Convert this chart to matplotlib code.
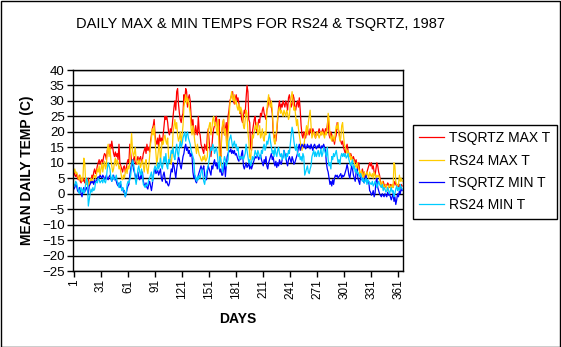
import matplotlib
matplotlib.use("Agg")
import matplotlib.pyplot as plt
import numpy as np
from matplotlib.patches import Rectangle

plt.rcParams['font.family'] = ['Liberation Sans', 'DejaVu Sans']

# daily values, 1987 (day 1 .. 365)
tsqrtz_max = [
    7, 6, 5.5, 6.5, 5, 4.5, 6, 4, 3.5, 5,
    4, 5, 3.5, 4.5, 3, 4, 5, 3, 3.5, 4,
    6, 5, 7, 8, 6.5, 7.5, 9, 10, 11, 9.5,
    10.5, 11, 10, 12, 13, 12.5, 11, 14, 15, 13,
    16, 14.5, 17, 15, 13, 12, 13.5, 12, 13, 11,
    16, 10, 9, 8, 7, 8.5, 9, 7, 8, 10,
    11, 10, 16, 13, 10.5, 9, 11, 12, 10, 9.5,
    11, 12, 10, 11.5, 12, 10, 11, 13, 14, 15,
    13, 16, 14, 15, 13.5, 17, 19, 21, 22, 24,
    19, 17, 16, 18, 15, 19, 17, 18, 16, 19,
    22, 25, 24, 25, 23, 20, 19, 21, 20, 22,
    25, 28, 30, 27, 33, 34, 29, 26, 24, 23,
    25, 26, 32, 30, 34, 33, 28, 31, 32, 30,
    25, 22, 24, 20, 19, 22, 20, 19, 25, 20,
    19, 16, 15, 14, 13, 16, 15, 14, 19, 21,
    17, 14, 12, 15, 19, 21, 22, 24, 25, 22,
    21, 24, 13, 12, 20, 22, 24, 19, 21, 23,
    17, 25, 27, 30, 31, 32, 33, 30, 29, 31,
    32, 30, 31, 29, 26, 27, 24, 23, 25, 27,
    26, 31, 35, 33, 24, 23, 15, 14, 20, 22,
    24, 25, 21, 20, 22, 24, 23, 26, 25, 27,
    28, 26, 25, 24, 27, 28, 30, 31, 29, 28,
    26, 20, 18, 19, 17, 20, 24, 28, 30, 27,
    29, 28, 30, 29, 28, 30, 29, 27, 31, 32,
    30, 28, 29, 32, 31, 28, 27, 29, 30, 28,
    31, 27, 22, 19, 18, 20, 19, 18, 20, 21,
    20, 19, 21, 20, 19, 21, 20, 19, 18, 20,
    19, 20, 21, 20, 19, 20, 21, 20, 19, 21,
    20, 22, 25, 19, 18, 20, 19, 17, 18, 16,
    18, 19, 23, 21, 20, 18, 17, 16, 17, 15,
    14, 13, 15, 16, 14, 13, 12, 13, 12, 11,
    12, 11, 10, 11, 9, 8, 10, 7, 6, 7,
    8, 6, 7, 5, 6, 7, 8, 9, 10, 9,
    10, 8, 9, 7, 6, 8, 10, 9, 7, 6,
    4, 3, 2.5, 4, 3, 2, 3, 2.5, 3.5, 3,
    2, 3, 2.5, 3, 2, 3, 4, 3, 2.5, 3,
    2, 3, 2, 3, 2.5,
]

rs24_max = [
    7, 8, 6.5, 7, 6, 5, 4.5, 6, 5, 4,
    5, 11.5, 10, 4, 3, 4.5, 2.5, 3, 4, 5,
    3.5, 4, 5.5, 6, 5, 6, 8, 7, 9, 6,
    8, 10, 7, 9, 10.5, 8, 9, 14, 16, 12,
    15, 11, 9, 7, 8, 10, 11.5, 9, 11, 10,
    8, 9, 7, 5, 4.5, 6, 5, 7, 8, 6.5,
    9, 8, 10, 15, 19.5, 14, 12, 13, 15, 11,
    10, 9.5, 11, 10, 8.5, 10, 11, 9, 7, 10,
    11, 8, 6.5, 9, 12, 16, 18, 21, 19, 22,
    17, 13, 9, 12, 15, 16, 10, 14, 17, 16,
    18, 19, 17, 16, 18, 12, 10, 11, 9.5, 13,
    20, 22, 24, 21, 23, 19, 17, 18, 20, 16,
    19, 22, 28, 30, 32, 29, 31, 30, 28, 26,
    21, 19, 22, 20, 17, 15, 13, 16, 14, 12.5,
    12, 11, 10.5, 12, 11, 12.5, 10.5, 11, 12, 20,
    22, 23, 19, 21, 24, 25, 22, 23, 21, 19,
    24, 14, 9, 11, 20, 23, 24, 19, 21, 17,
    14, 19, 24, 29, 31, 33, 31, 30, 32, 29,
    30, 28, 27, 29, 26, 28, 27, 25, 22, 21,
    24, 27, 26, 20, 17, 12, 11, 15, 19, 18,
    20, 22, 21, 23, 19, 20, 22, 18, 19, 21,
    18, 17, 20, 19, 27, 30, 32, 29, 28, 30,
    27, 22, 17, 16, 19, 21, 25, 27, 28, 26,
    27, 26, 25, 27, 26, 25, 27, 26, 24, 25,
    29, 31, 33, 30, 27, 28, 25, 22, 24, 21,
    19, 17, 15, 14, 16, 15, 18, 20, 22, 19,
    23, 25, 27, 22, 18, 19, 20, 19, 18, 19,
    20, 19, 18, 19, 20, 19, 20, 19, 18, 20,
    19, 21, 26, 24, 19, 18, 17, 19, 18, 17,
    20, 22, 21, 23, 19, 17, 18, 22, 23, 19,
    16, 15, 14, 13, 14, 12, 13, 11, 12, 10.5,
    11, 10, 9, 8.5, 10, 9, 8, 7, 6, 7.5,
    6, 5, 7, 6, 5.5, 7, 6, 5, 7, 6,
    5.5, 6.5, 5, 7, 6, 5, 6, 5.5, 6, 5,
    3, 2, 4, 3, 1.5, 2.5, 3, 2, 1, 2,
    3, 2, 1.5, 3, 2, 10, 9, 4, 3, 2.5,
    3, 6, 4, 5, 4,
]

tsqrtz_min = [
    1.5, 2, 3, 2.5, 1, 0.5, 2, 1.5, 0, -1,
    1, 2, 0.5, 1.5, 2, 1, 0, 2.5, 3, 4,
    3.5, 4, 3, 4.5, 3.5, 4, 5, 5.5, 5, 6,
    5.5, 5, 6, 5.5, 4.5, 5, 6, 5, 4.5, 5.5,
    6, 5, 4, 5, 6, 4.5, 5, 4, 3, 2.5,
    3.5, 2, 3, 1.5, 2, 0.5, 1, -1, 0, 1.5,
    2.5, 3, 6, 8, 9.5, 11, 8, 7, 6, 5,
    6, 7, 5, 4.5, 6, 5, 7, 4, 3, 2.5,
    3.5, 2, 1.5, 3, 4, 2.5, 1, 3, 6, 7,
    8, 6.5, 7, 7.5, 6, 7, 8, 5, 4, 6,
    7, 5, 3.5, 4, 3, 2.5, 3.5, 6, 8, 7,
    10, 9, 7, 5, 8, 10, 12, 11, 9, 8,
    10, 12, 13, 15, 16, 14, 15, 13, 14, 12,
    13, 12, 7, 5, 6, 4, 3.5, 5, 6, 7,
    8, 9, 7.5, 8, 9, 6, 5, 4.5, 7, 9,
    8, 7, 6, 9, 8, 10, 11, 9, 10, 8,
    10, 9, 7, 8, 6, 6, 8, 10, 5.5, 9,
    12, 13, 14, 13.5, 14.5, 13, 14, 13, 14, 12.5,
    13, 12, 11, 10.5, 12, 11, 13, 14, 9, 8,
    9, 10, 8.5, 9, 10, 8, 9.5, 8, 9, 10,
    11, 12, 11.5, 12.5, 12, 11, 12, 12.5, 11, 10,
    9, 11, 10, 12, 9, 8, 10, 11, 12, 13,
    11, 12, 10, 9, 10.5, 8.5, 10, 9, 11, 10,
    9.5, 11, 12, 14, 13, 12, 10, 9, 11, 12,
    11, 10, 12, 11, 9.5, 10, 11, 12, 13, 15,
    16, 14, 15, 16, 15.5, 15, 16, 14.5, 15, 16,
    15, 15.5, 14.5, 16, 15, 14, 15.5, 16, 15, 14.5,
    15.5, 15, 16, 15, 14.5, 15.5, 15, 16, 15, 14,
    10, 8, 7, 5, 3, 4, 2.5, 4.5, 3, 5,
    6, 5.5, 6, 5, 5.5, 6, 6.5, 5, 6, 5.5,
    6, 7, 8, 9.5, 8, 6, 5, 7, 9, 8,
    6, 5, 4, 7, 8, 5, 4, 3, 6, 4.5,
    5, 4, 3.5, 5, 6, 4, 3.5, 4, 1, 0.5,
    -0.5, 0, 1, -1, 0, 4, 5, 2, 1, 0,
    -0.5, -1, 0, -0.5, -1, 0, -0.5, -1, 0.5, -0.5,
    0, -1, -2, -1, 0, -2.5, -1, -3.5, -2, 0,
    -1, 1, 0, 2, 1,
]

rs24_min = [
    3, 2.5, 4, 3.5, 2, 1, 0, 1.5, 2, 0.5,
    1.5, 0, 1, 3, 5, 4, -4, -2, 0, 1.5,
    0.5, 2, 1, 1.5, 3.5, 4, 3.5, 5, 4.5, 3.5,
    4, 4.5, 3.5, 5, 4, 3.5, 5, 8, 10, 9,
    8, 5, 4, 6, 5, 4.5, 5, 6, 4, 3,
    2, 3.5, 4, 1, 2, 1.5, 0.5, -1, 0, 3,
    4, 3.5, 4.5, 6, 9, 11, 10, 8, 5, 3,
    5, 8, 9, 7, 6, 8, 6, 3, 2.5, 2,
    3, 2.5, 3, 4.5, 5, 6, 7, 4, 5, 8,
    9, 8, 7.5, 10, 8, 9, 11.5, 9, 8, 10,
    12, 10, 13, 9, 8, 11, 10, 12, 14, 13,
    15, 12, 11, 14, 16, 13, 12, 15, 17, 15,
    16, 18, 19, 20, 17, 19, 20, 18, 17, 16,
    14, 13, 12, 11, 6, 5, 4, 5.5, 4.5, 6,
    5, 7, 8, 6, 4, 3, 5, 7, 8, 9,
    11, 13, 15, 14, 16, 15, 13, 14, 15, 13,
    10, 8, 12, 11, 9, 7, 10, 12, 11, 9,
    10, 11, 17, 18, 19, 17, 15, 16, 17, 15,
    16, 14, 15, 12, 11, 12, 11.5, 12, 11, 12,
    13, 16, 14, 12, 10, 11, 9, 10, 12, 11,
    12, 14, 13, 12, 14, 13, 12, 11.5, 14, 13,
    15, 16, 14, 15, 17, 16, 18, 19.5, 17, 15,
    13, 14, 12, 15, 13, 12, 14, 15, 13, 12,
    13, 11, 12, 14, 12, 11, 13, 12, 14, 13,
    16, 19, 21.5, 20, 17, 15, 14, 16, 13, 12,
    13, 11, 12, 10.5, 13, 12, 6, 7, 8, 9,
    7, 6.5, 8, 9, 12, 13, 14, 12, 13.5, 12,
    13, 14, 12, 13, 14.5, 12, 13, 15, 14, 13,
    12, 15, 11, 9, 10, 8, 12, 11, 13, 12,
    13, 14, 12, 10, 11, 9.5, 12, 13, 12, 13,
    12, 13, 11.5, 12, 13, 11, 10, 9, 10, 11,
    8, 9, 7, 8, 6.5, 7, 6, 5.5, 6.5, 5,
    4, 5, 3.5, 4, 5, 3, 4.5, 4, 3, 3.5,
    3, 4, 2.5, 3, 4, 3.5, 2, 3, 4, 3,
    2.5, 2, 3, 1, 2, 1.5, 0.5, 1, 2, 1,
    0, 1, 2, 0.5, 1, -1, 0, 1.5, 2.5, 1,
    2, 1, 3, 2, 1.5,
]

days = np.arange(1, len(tsqrtz_max) + 1)

series_names = ["TSQRTZ MAX T", "RS24 MAX T", "TSQRTZ MIN T", "RS24 MIN T"]
series_colors = ["#FF0000", "#FFCC00", "#0000FF", "#00CCFF"]
x_ticks = list(range(1, 366, 30))
y_ticks = list(range(-25, 45, 5))

fig = plt.figure(figsize=(5.61, 3.47), dpi=100)
ax = fig.add_axes([73 / 561, 1 - 271 / 347, 330 / 561, 201 / 347])

for vals, name, col in zip([tsqrtz_max, rs24_max, tsqrtz_min, rs24_min],
                           series_names, series_colors):
    ax.plot(days, vals, color=col, lw=0.9, label=name)

ax.set_xlim(0, 366)
ax.set_ylim(-25, 40)
ax.set_yticks(y_ticks)
ax.set_xticks(x_ticks)
ax.set_xticklabels([str(t) for t in x_ticks], rotation=90)
ax.yaxis.grid(True, color='black', lw=1)
ax.set_axisbelow(True)
ax.tick_params(axis='both', direction='out', length=4, width=1, pad=2)
ax.tick_params(axis='y', labelsize=9.5)
ax.tick_params(axis='x', labelsize=8.5)

for spine in ax.spines.values():
    spine.set_color('black')
    spine.set_linewidth(1)

ax.set_ylabel("MEAN DAILY TEMP (C)", fontsize=10, fontweight='bold', labelpad=6)
ax.set_xlabel("DAYS", fontsize=10, fontweight='bold', labelpad=9)

fig.text(260 / 561, 1 - 24 / 347, "DAILY MAX & MIN TEMPS FOR RS24 & TSQRTZ, 1987",
         ha='center', va='center', fontsize=10.5)

leg = ax.legend(loc='upper left', bbox_to_anchor=(413 / 561, 1 - 125 / 347),
                bbox_transform=fig.transFigure, borderaxespad=0, fancybox=False,
                edgecolor='black', framealpha=1, fontsize=10, handlelength=1.8,
                handletextpad=0.35, labelspacing=0.6, borderpad=0.45)
leg.get_frame().set_linewidth(1)

# black border around the whole chart
fig.patches.append(Rectangle((0.5 / 561, 0.5 / 347), 1 - 1.5 / 561, 1 - 1.5 / 347,
                             transform=fig.transFigure, fill=False,
                             edgecolor='black', lw=1))

fig.savefig("out.png", dpi=100)
